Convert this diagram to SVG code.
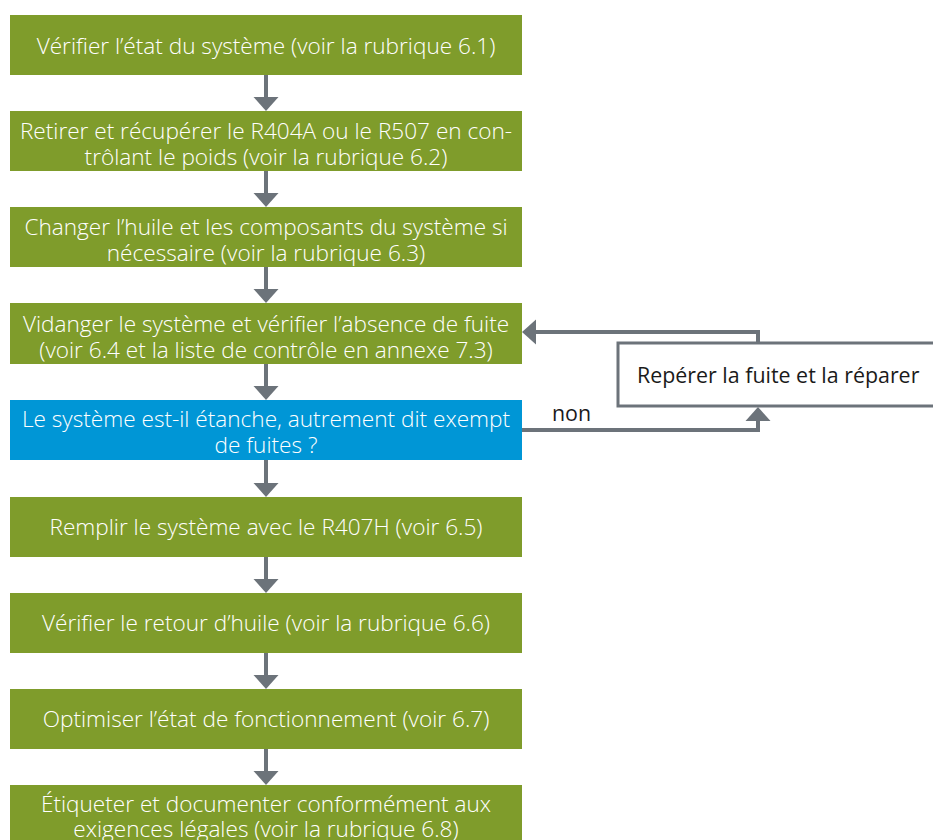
<svg xmlns="http://www.w3.org/2000/svg" width="933" height="840" viewBox="0 0 933 840">
<style>
.g{fill:#7f9c2b}
.b{fill:#0096d6}
.t{font-family:"Open Sans","Noto Sans","Liberation Sans",sans-serif;font-size:22.6px;font-weight:300;fill:#ffffff;text-anchor:middle}
.d{font-family:"Open Sans","Noto Sans","Liberation Sans",sans-serif;font-size:21.4px;font-weight:400;fill:#1a1a1a}
.c{stroke:#6c737a;stroke-width:4;fill:none}
.h{fill:#6c737a}
</style>
<rect width="933" height="840" fill="#ffffff"/>
<g id="connectors">
<line class="c" x1="266" y1="75" x2="266" y2="99"/><polygon class="h" points="253.5,97 278.5,97 266,111"/>
<line class="c" x1="266" y1="171" x2="266" y2="195"/><polygon class="h" points="253.5,193 278.5,193 266,207"/>
<line class="c" x1="266" y1="267" x2="266" y2="291"/><polygon class="h" points="253.5,289 278.5,289 266,303"/>
<line class="c" x1="266" y1="364" x2="266" y2="388"/><polygon class="h" points="253.5,386 278.5,386 266,400"/>
<line class="c" x1="266" y1="460" x2="266" y2="485"/><polygon class="h" points="253.5,483 278.5,483 266,497"/>
<line class="c" x1="266" y1="557" x2="266" y2="581"/><polygon class="h" points="253.5,579 278.5,579 266,593"/>
<line class="c" x1="266" y1="653" x2="266" y2="677"/><polygon class="h" points="253.5,675 278.5,675 266,689"/>
<line class="c" x1="266" y1="749" x2="266" y2="773"/><polygon class="h" points="253.5,771 278.5,771 266,785"/>
<polyline class="c" points="522,430 758,430 758,420"/><polygon class="h" points="745.5,421 770.5,421 758,407"/>
<polyline class="c" points="758,343 758,332 535,332"/><polygon class="h" points="536,319.5 536,344.5 522,332"/>
<text class="d" x="552" y="421">non</text>
</g>
<g id="n1"><rect class="g" x="10" y="15" width="512" height="60"/><text class="t" x="266" y="54">Vérifier l’état du système (voir la rubrique 6.1)</text></g>
<g id="n2"><rect class="g" x="10" y="111" width="512" height="60"/><text class="t" x="266" y="139">Retirer et récupérer le R404A ou le R507 en con-</text><text class="t" x="266" y="165">trôlant le poids (voir la rubrique 6.2)</text></g>
<g id="n3"><rect class="g" x="10" y="207" width="512" height="60"/><text class="t" x="266" y="235">Changer l’huile et les composants du système si</text><text class="t" x="266" y="261">nécessaire (voir la rubrique 6.3)</text></g>
<g id="n4"><rect class="g" x="10" y="303" width="512" height="61"/><text class="t" x="266" y="332">Vidanger le système et vérifier l’absence de fuite</text><text class="t" x="266" y="358">(voir 6.4 et la liste de contrôle en annexe 7.3)</text></g>
<g id="n5"><rect class="b" x="10" y="400" width="512" height="60"/><text class="t" x="266" y="427">Le système est-il étanche, autrement dit exempt</text><text class="t" x="266" y="453">de fuites ?</text></g>
<g id="n6"><rect class="g" x="10" y="497" width="512" height="60"/><text class="t" x="266" y="535">Remplir le système avec le R407H (voir 6.5)</text></g>
<g id="n7"><rect class="g" x="10" y="593" width="512" height="60"/><text class="t" x="266" y="631">Vérifier le retour d’huile (voir la rubrique 6.6)</text></g>
<g id="n8"><rect class="g" x="10" y="689" width="512" height="60"/><text class="t" x="266" y="727">Optimiser l’état de fonctionnement (voir 6.7)</text></g>
<g id="n9"><rect class="g" x="10" y="785" width="512" height="61"/><text class="t" x="266" y="812">Étiqueter et documenter conformément aux</text><text class="t" x="266" y="837">exigences légales (voir la rubrique 6.8)</text></g>
<g id="n10"><rect x="618" y="343" width="320" height="63" fill="#ffffff" stroke="#6c737a" stroke-width="3"/><text class="d" x="637" y="383">Repérer la fuite et la réparer</text></g>
</svg>
